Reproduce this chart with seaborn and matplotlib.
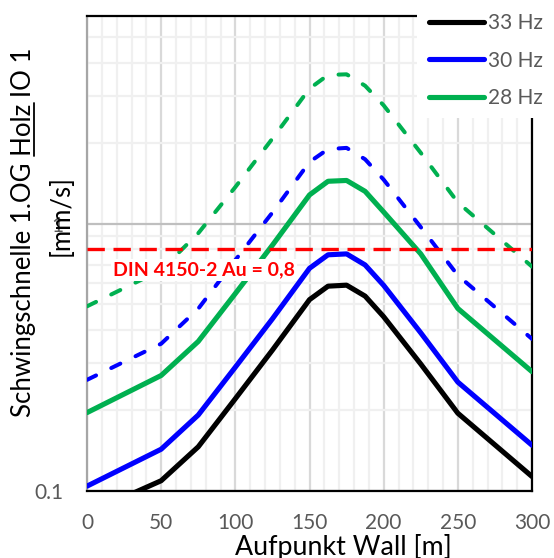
import numpy as np
import pandas as pd
import matplotlib
matplotlib.use("Agg")
import matplotlib.pyplot as plt
import seaborn as sns
from matplotlib.ticker import FixedLocator, FixedFormatter, NullFormatter
from matplotlib.lines import Line2D
from matplotlib.patches import Rectangle

# ---------------- data ----------------
x_m = [0, 50, 75, 100, 125, 150, 162.5, 175, 187.5, 200, 225, 250, 300]
v33 = [0.082, 0.109, 0.146, 0.221, 0.336, 0.519, 0.583, 0.588, 0.535, 0.448, 0.298, 0.195, 0.113]
v30 = [0.104, 0.143, 0.192, 0.290, 0.440, 0.680, 0.764, 0.770, 0.700, 0.587, 0.390, 0.255, 0.148]
v28 = [0.196, 0.270, 0.362, 0.547, 0.830, 1.280, 1.440, 1.450, 1.320, 1.105, 0.770, 0.481, 0.279]
v30_dashed = [0.260, 0.355, 0.480, 0.730, 1.100, 1.700, 1.900, 1.920, 1.740, 1.460, 0.970, 0.640, 0.370]
v28_dashed = [0.490, 0.670, 0.920, 1.370, 2.080, 3.200, 3.600, 3.620, 3.280, 2.770, 1.840, 1.200, 0.690]
din_limit = 0.8
din_label = "DIN 4150-2 Au = 0,8"
legend_labels = ["33 Hz", "30 Hz", "28 Hz"]
x_ticks = [0, 50, 100, 150, 200, 250, 300]
x_minor = [v for v in range(0, 301, 10) if v % 50 != 0]
y_ticks = [0.1, 1]
y_tick_labels = ["0.1", "1"]
y_minor = [0.2, 0.3, 0.4, 0.5, 0.6, 0.7, 0.8, 0.9, 2, 3, 4, 5, 6]
ylabel_main_pre = "Schwingschnelle 1.OG "
ylabel_main_ul = "Holz"
ylabel_main_post = " IO 1"
ylabel_unit = "[mm/s]"
xlabel = "Aufpunkt Wall [m]"

df = pd.DataFrame({
    "x": x_m * 5,
    "v": v33 + v30 + v28 + v30_dashed + v28_dashed,
    "series": (["33 Hz"] * len(x_m) + ["30 Hz"] * len(x_m) + ["28 Hz"] * len(x_m)
               + ["30 Hz dashed"] * len(x_m) + ["28 Hz dashed"] * len(x_m)),
})

# ---------------- style ----------------
sns.set_theme(style="white")
plt.rcParams["font.family"] = ["Lato", "DejaVu Sans"]

W, H = 554, 558
fig = plt.figure(figsize=(W / 100, H / 100), dpi=100)
L, R, T, B = 87, 532, 15.7, 490.7
ax = fig.add_axes([L / W, 1 - B / H, (R - L) / W, (B - T) / H])

BLACK, BLUE, GREEN = "#000000", "#0000ff", "#00b050"
solid_lw = 3.7
dash_lw = 2.9

styles = {
    "28 Hz dashed": dict(color=GREEN, lw=dash_lw, ls=(0, (2.5, 4.2)), cap="round"),
    "30 Hz dashed": dict(color=BLUE, lw=dash_lw, ls=(0, (2.5, 4.2)), cap="round"),
    "28 Hz": dict(color=GREEN, lw=solid_lw, ls="-", cap="butt"),
    "30 Hz": dict(color=BLUE, lw=solid_lw, ls="-", cap="butt"),
    "33 Hz": dict(color=BLACK, lw=solid_lw, ls="-", cap="butt"),
}
handles = {}
for name, st in styles.items():
    sub = df[df["series"] == name]
    n_before = len(ax.lines)
    sns.lineplot(data=sub, x="x", y="v", ax=ax, color=st["color"], lw=st["lw"],
                 linestyle=st["ls"], estimator=None, sort=False, legend=False, zorder=3)
    ln = ax.lines[n_before]
    ln.set_dash_capstyle(st["cap"])
    ln.set_solid_joinstyle("round")
    handles[name] = ln

ax.axhline(din_limit, color="#ff0000", lw=2.4, linestyle=(0, (5.2, 2.6)), zorder=4)

ax.set_yscale("log")
ax.set_ylim(0.1, 6)
ax.set_xlim(0, 300)

ax.xaxis.set_major_locator(FixedLocator(x_ticks))
ax.xaxis.set_minor_locator(FixedLocator(x_minor))
ax.yaxis.set_major_locator(FixedLocator(y_ticks))
ax.yaxis.set_major_formatter(FixedFormatter(y_tick_labels))
ax.yaxis.set_minor_locator(FixedLocator(y_minor))
ax.yaxis.set_minor_formatter(NullFormatter())
ax.set_xlabel("")
ax.set_ylabel("")

ax.set_axisbelow(True)
ax.grid(which="minor", axis="both", color="#f0f0f0", lw=1.6)
ax.grid(which="major", axis="x", color="#d9d9d9", lw=1.6)
ax.grid(which="major", axis="y", color="#bfbfbf", lw=1.6)

tick_color = "#595959"
ax.tick_params(axis="both", which="both", length=0)
ax.tick_params(axis="x", which="major", pad=16, labelsize=15, labelcolor=tick_color)
ax.tick_params(axis="y", which="major", pad=17, labelsize=15, labelcolor=tick_color)

for side in ["top", "right", "bottom"]:
    ax.spines[side].set_color("black")
    ax.spines[side].set_linewidth(1.6)
ax.spines["left"].set_color("#a6a6a6")
ax.spines["left"].set_linewidth(1.6)

# white block behind the legend (covers top/right frame like the original)
fig.add_artist(Rectangle((417 / W, 1 - 118 / H), (W - 417) / W, 118 / H,
                         transform=fig.transFigure, facecolor="white",
                         edgecolor="none", zorder=1))

leg = fig.legend(handles=[handles[k] for k in legend_labels], labels=legend_labels,
                 loc="upper left", bbox_to_anchor=(429 / W, 1 - 13 / H),
                 frameon=False, fontsize=15, handlelength=2.65, handletextpad=0.2,
                 labelspacing=0.85, borderaxespad=0, borderpad=0)
for t in leg.get_texts():
    t.set_color(tick_color)
leg.set_zorder(5)

# DIN label
fig.text(113 / W, 1 - 270 / H, din_label, color="#ff0000", fontweight="bold",
         fontsize=14, ha="left", va="center", zorder=6,
         bbox=dict(facecolor="white", edgecolor="none", pad=1.5))

# axis labels
ylab_full = ylabel_main_pre + ylabel_main_ul + ylabel_main_post
t_y1 = fig.text(24 / W, 1 - 232 / H, ylab_full, rotation=90, ha="center",
                va="center", fontsize=18.5, color="black")
t_y2 = fig.text(61 / W, 1 - 216 / H, ylabel_unit, rotation=90, ha="center",
                va="center", fontsize=18.5, color="black")
t_x = fig.text(343 / W, 1 - 555 / H, xlabel, ha="center", va="baseline",
               fontsize=18.5, color="black")

# fit label sizes to measured widths in the reference
fig.canvas.draw()
renderer = fig.canvas.get_renderer()

def text_w(s, fp):
    w, h, d = renderer.get_text_width_height_descent(s, fp, ismath=False)
    return w, h, d

for t, target in [(t_y1, 370), (t_x, 217)]:
    w, _, _ = text_w(t.get_text(), t.get_fontproperties())
    t.set_fontsize(t.get_fontsize() * target / w)
t_y2.set_fontsize(t_y1.get_fontsize())

fig.canvas.draw()
# underline "Holz"
fp = t_y1.get_fontproperties()
w_full, h_full, d_full = text_w(ylab_full, fp)
w_pre_ul, _, _ = text_w(ylabel_main_pre + ylabel_main_ul, fp)
w_ul, _, _ = text_w(ylabel_main_ul, fp)
bb = t_y1.get_window_extent(renderer)
y_start = (bb.y0 + bb.y1) / 2 - w_full / 2
u0 = y_start + (w_pre_ul - w_ul)
u1 = y_start + w_pre_ul
cx = (bb.x0 + bb.x1) / 2
x_base = cx + (h_full - 2 * d_full) / 2 + 2.5
fig.add_artist(Line2D([x_base / W, x_base / W], [u0 / H, u1 / H],
                      transform=fig.transFigure, color="black", lw=1.3))

fig.savefig("out.png", dpi=100)
